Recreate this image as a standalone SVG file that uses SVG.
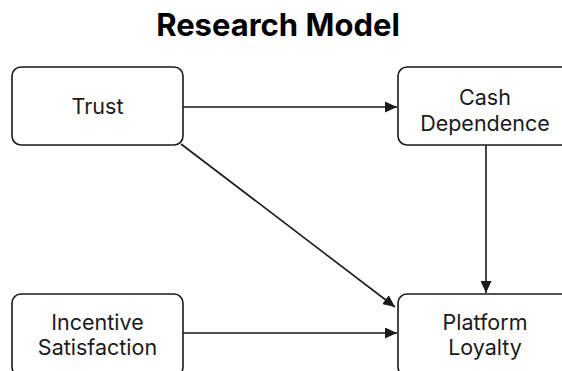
<svg xmlns="http://www.w3.org/2000/svg" width="562" height="371" viewBox="0 0 562 371">
  <style>
    .box { fill: #ffffff; stroke: #1a1a1a; stroke-width: 1.6; }
    .lbl { font-family: Inter, "Liberation Sans", sans-serif; font-size: 21.5px; fill: #1a1a1a; text-anchor: middle; }
    .title { font-family: Inter, "Liberation Sans", sans-serif; font-size: 31px; font-weight: 700; fill: #000; text-anchor: middle; }
    .edge { stroke: #1a1a1a; stroke-width: 1.6; fill: none; marker-end: url(#arrow); }
  </style>
  <defs>
    <marker id="arrow" markerUnits="userSpaceOnUse" markerWidth="13" markerHeight="11" refX="12" refY="5.5" orient="auto">
      <path d="M0,0 L12,5.5 L0,11 Z" fill="#1a1a1a"/>
    </marker>
  </defs>
  <rect width="562" height="371" fill="#ffffff"/>
  <text class="title" x="278" y="36">Research Model</text>
  <g id="connectors">
    <line class="edge" x1="183" y1="107" x2="397" y2="107"/>
    <line class="edge" x1="486" y1="145" x2="486" y2="293"/>
    <line class="edge" x1="181" y1="144" x2="395" y2="307"/>
    <line class="edge" x1="183" y1="333" x2="397" y2="333"/>
  </g>
  <g id="trust">
    <rect class="box" x="12" y="67" width="171" height="78" rx="9"/>
    <text class="lbl" x="97.5" y="114">Trust</text>
  </g>
  <g id="cash-dependence">
    <rect class="box" x="398" y="67" width="172" height="78" rx="9"/>
    <text class="lbl" x="485" y="105">Cash</text>
    <text class="lbl" x="485" y="130.5">Dependence</text>
  </g>
  <g id="incentive-satisfaction">
    <rect class="box" x="12" y="294" width="171" height="82" rx="9"/>
    <text class="lbl" x="97.5" y="330">Incentive</text>
    <text class="lbl" x="97.5" y="355">Satisfaction</text>
  </g>
  <g id="platform-loyalty">
    <rect class="box" x="398" y="294" width="172" height="82" rx="9"/>
    <text class="lbl" x="485" y="330">Platform</text>
    <text class="lbl" x="485" y="355">Loyalty</text>
  </g>
</svg>
